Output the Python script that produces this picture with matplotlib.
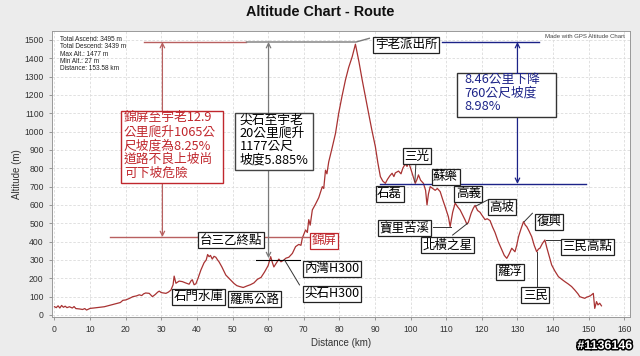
import matplotlib
matplotlib.use('Agg')
import matplotlib.pyplot as plt
import matplotlib.patheffects as pe
from matplotlib.patches import Rectangle

plt.rcParams['font.family'] = ['Liberation Sans', 'Noto Sans CJK TC', 'DejaVu Sans']

# 1. Profil wysokości
dist_km = [0.0, 0.5, 1.0, 1.5, 2.0, 2.5, 3.0, 3.5, 4.2, 5.0, 5.5, 6.0, 7.0, 7.9, 8.5, 9.0,
           10.0, 11.0, 12.6, 14.0, 15.0, 16.0, 17.3, 18.5, 19.2, 20.0, 21.0, 22.0, 23.0,
           23.8, 24.5, 25.0, 25.6, 26.6, 27.5, 28.3, 29.0, 29.4, 30.0, 31.3, 32.0, 32.7,
           33.3, 33.6, 34.1, 35.0, 35.9, 36.8, 37.8, 38.4, 38.7, 39.2, 39.7, 40.3, 41.1,
           42.0, 42.6, 43.0, 43.4, 43.8, 44.3, 44.8, 45.3, 45.8, 46.2, 47.0, 48.1, 49.0,
           50.0, 50.4, 51.2, 52.0, 53.0, 54.0, 55.0, 56.0, 57.0, 58.0, 59.0, 60.0, 60.7,
           61.2, 61.6, 62.2, 63.0, 63.6, 64.4, 65.0, 65.8, 66.8, 67.7, 68.6, 69.2, 69.6,
           70.5, 71.0, 71.4, 71.8, 72.4, 73.3, 74.2, 75.2, 75.6, 76.1, 76.5, 77.0, 78.0,
           78.9, 79.8, 80.7, 81.7, 82.6, 83.6, 84.5, 85.5, 86.4, 87.3, 88.2, 89.1, 90.1,
           90.8, 91.5, 92.2, 92.9, 93.5, 94.2, 94.8, 95.3, 95.7, 96.6, 97.3, 97.8, 98.5,
           99.0, 99.4, 100.0, 100.4, 101.3, 101.8, 102.2, 102.8, 103.6, 104.2, 104.6,
           105.0, 105.5, 106.2, 106.9, 107.5, 108.3, 109.0, 109.7, 110.6, 111.1, 111.8,
           112.5, 113.2, 113.9, 114.6, 115.3, 115.8, 116.2, 117.0, 117.6, 118.1, 118.8,
           119.5, 120.0, 120.9, 121.5, 122.3, 123.0, 123.7, 124.6, 125.6, 126.3, 127.0,
           127.6, 128.4, 129.3, 129.8, 130.3, 131.0, 131.7, 132.2, 132.6, 133.2, 134.0,
           134.7, 135.4, 135.9, 136.3, 137.0, 137.7, 138.2, 138.7, 139.6, 140.5, 141.5,
           142.4, 143.3, 144.2, 145.2, 146.1, 147.0, 147.5, 148.2, 148.9, 149.5, 149.9,
           150.5, 151.3, 151.7, 152.2, 152.6, 153.1, 153.58]
alt_m = [45, 40, 50, 38, 52, 42, 48, 40, 45, 38, 46, 35, 33, 30, 35, 27,
         36, 38, 42, 45, 50, 55, 62, 68, 80, 82, 90, 100, 104,
         110, 106, 115, 120, 118, 100, 112, 125, 130, 122, 118, 125, 136,
         165, 212, 173, 185, 182, 175, 168, 188, 192, 165, 170, 200, 245,
         285, 300, 330, 318, 325, 305, 320, 315, 300, 290, 262, 218, 200,
         180, 172, 160, 155, 150, 158, 165, 175, 195, 205, 235, 270, 318,
         285, 262, 280, 305, 290, 300, 310, 315, 336, 373, 385, 380, 420,
         464, 450, 520, 490, 573, 605, 640, 700, 690, 790, 770, 835, 915,
         990, 1100, 1190, 1282, 1350, 1409, 1477, 1380, 1282, 1190, 1100, 1010, 918,
         830, 755, 730, 718, 740, 760, 773, 755, 775, 785, 770, 800, 825,
         810, 836, 800, 775, 718, 740, 764, 735, 718, 680, 600,
         660, 700, 690, 680, 690, 673, 630, 590, 536, 482, 560,
         610, 590, 573, 545, 518, 495, 505, 555, 582, 598, 570,
         560, 545, 520, 525, 515, 480, 450, 400, 355, 325, 309,
         330, 364, 345, 380, 427, 470, 509, 490, 482, 460, 427,
         380, 345, 360, 364, 390, 409, 370, 336, 273, 240, 209,
         195, 182, 170, 155, 136, 115, 100, 95, 91, 98, 100,
         105, 118, 36, 73, 55, 64, 50]

x_ticks = list(range(0, 161, 10))
y_ticks = list(range(0, 1501, 100))

stats = ['Total Ascend: 3495 m', 'Total Descend: 3439 m', 'Max Alt.: 1477 m',
         'Min Alt.: 27 m', 'Distance: 153.58 km']

places = ['石門水庫', '羅馬公路', '台三乙終點', '內灣H300', '尖石H300', '宇老派出所',
          '三光', '石磊', '蘇樂', '高義', '寶里苦溪', '北橫之星', '高坡', '復興',
          '羅浮', '三民高點', '三民']
place_xy = [(40.4, 100), (56.2, 87), (49.5, 407), (77.9, 251), (77.9, 115), (98.7, 1473),
            (101.8, 867), (94.1, 662), (109.8, 754), (116.2, 662), (98.3, 475),
            (110.3, 380), (125.6, 589), (138.9, 509), (127.8, 235), (149.7, 373),
            (135.0, 107)]

red_note = '錦屏至宇老12.9\n公里爬升1065公\n尺坡度為8.25%\n道路不良上坡尚\n可下坡危險'
gray_note = '尖石至宇老\n20公里爬升\n1177公尺\n坡度5.885%'
blue_note = '8.46公里下降\n760公尺坡度\n8.98%'

RED = '#c0272d'
RED_LINE = '#b86060'
BLUE = '#1c2388'
GRAY = '#7a7a7a'
CJK = ['Noto Sans CJK TC', 'DejaVu Sans']

# 2. Rysunek
fig = plt.figure(figsize=(6.4, 3.56), dpi=100, facecolor='#ececec')
ax = fig.add_axes([52 / 640, 1 - 317 / 356, 578 / 640, 286 / 356])
ax.set_facecolor('white')

ax.plot(dist_km, alt_m, color='#a83232', lw=0.9, zorder=3)

ax.set_xlim(-0.7, 161.6)
ax.set_ylim(-11, 1549)
ax.set_xticks(x_ticks)
ax.set_yticks(y_ticks)
ax.tick_params(labelsize=6.2, labelcolor='#333333', color='#888888', length=2.5, width=0.6)
ax.grid(True, color='#dcdcdc', linestyle=(0, (3, 2)), lw=0.6)
ax.set_axisbelow(True)
for s in ax.spines.values():
    s.set_color('#999999')
    s.set_linewidth(0.7)
ax.set_xlabel('Distance (km)', fontsize=7, color='#333333', labelpad=3)
ax.set_ylabel('Altitude (m)', fontsize=7, color='#333333', labelpad=1.5)

fig.text(0.5, 1 - 12 / 356, 'Altitude Chart - Route', ha='center', va='center',
         fontsize=10.4, fontweight='bold', color='#111111')
for i, s in enumerate(stats):
    fig.text(60 / 640, 1 - (39.3 + 7.4 * i) / 356, s, ha='left', va='center',
             fontsize=4.7, color='#222222')
fig.text(625 / 640, 1 - 37 / 356, 'Made with GPS Altitude Chart', ha='right', va='center',
         fontsize=4.3, color='#444444')
fig.text(605 / 640, 1 - 346 / 356, '#1136146', ha='center', va='center', fontsize=9,
         fontweight='bold', color='white',
         path_effects=[pe.withStroke(linewidth=2.2, foreground='black')])

# 3. Linie pomocnicze i strzałki
ax.plot([25.2, 53.9], [1489, 1489], color=RED_LINE, lw=1.0, zorder=4)
ax.plot([15.6, 72.5], [425, 425], color=RED_LINE, lw=1.0, zorder=4)
ax.annotate('', xy=(30.3, 1489), xytext=(30.3, 425),
            arrowprops=dict(arrowstyle='<->', color=RED_LINE, lw=0.9, shrinkA=0, shrinkB=0,
                            mutation_scale=8), zorder=4)

ax.plot([53.9, 84.7, 88.4], [1489, 1489, 1509], color=GRAY, lw=1.0, zorder=4)
ax.annotate('', xy=(60.1, 1489), xytext=(60.1, 310),
            arrowprops=dict(arrowstyle='<->', color=GRAY, lw=0.9, shrinkA=0, shrinkB=0,
                            mutation_scale=8), zorder=4)
ax.plot([56.7, 68.8], [301, 301], color='black', lw=0.8, zorder=4)
ax.plot([64.6, 68.8], [300, 164], color='#333333', lw=0.7, zorder=4)

ax.plot([108.9, 136.1], [1489, 1489], color=BLUE, lw=1.0, zorder=4)
ax.plot([91.3, 149.3], [715, 715], color=BLUE, lw=1.0, zorder=4)
ax.annotate('', xy=(130.0, 1489), xytext=(130.0, 715),
            arrowprops=dict(arrowstyle='<->', color=BLUE, lw=0.9, shrinkA=0, shrinkB=0,
                            mutation_scale=8), zorder=4)

# linie do etykiet
leaders = [([101.2, 101.5], [727, 836]), ([118.4, 121.6], [595, 627]),
           ([106.2, 111.4], [482, 482]), ([111.8, 116.0], [436, 500]),
           ([131.9, 134.2], [509, 555]), ([138.0, 142.2], [409, 409]),
           ([135.6, 135.6], [345, 154])]
for lx, ly in leaders:
    ax.plot(lx, ly, color='#333333', lw=0.7, zorder=4)

# 4. Ramki z opisami
notes = [(red_note, (18.6, 720, 28.6, 393), (19.5, 1110), RED, RED, 1.08),
         (gray_note, (50.6, 791, 21.9, 311), (52.0, 1100), 'black', '#444444', 1.04),
         (blue_note, (113.1, 1080, 27.8, 240), (115.1, 1318), BLUE, '#333333', 1.04)]
for txt, (rx, ry, rw, rh), (tx, ty), tc, ec, ls in notes:
    ax.add_patch(Rectangle((rx, ry), rw, rh, fc='white', ec=ec, lw=1.0, zorder=5))
    ax.text(tx, ty, txt, ha='left', va='top', fontsize=9.2, color=tc, family=CJK,
            linespacing=ls, zorder=6)

for name, (px, py) in zip(places, place_xy):
    ax.text(px, py, name, ha='center', va='center', fontsize=9, family=CJK, zorder=6,
            bbox=dict(boxstyle='square,pad=0.12', fc='white', ec='#222222', lw=0.9))
ax.text(75.8, 404, '錦屏', ha='center', va='center', fontsize=9, family=CJK, color=RED,
        zorder=6, bbox=dict(boxstyle='square,pad=0.12', fc='white', ec=RED, lw=0.9))

plt.savefig('out.png', dpi=100, facecolor=fig.get_facecolor())
